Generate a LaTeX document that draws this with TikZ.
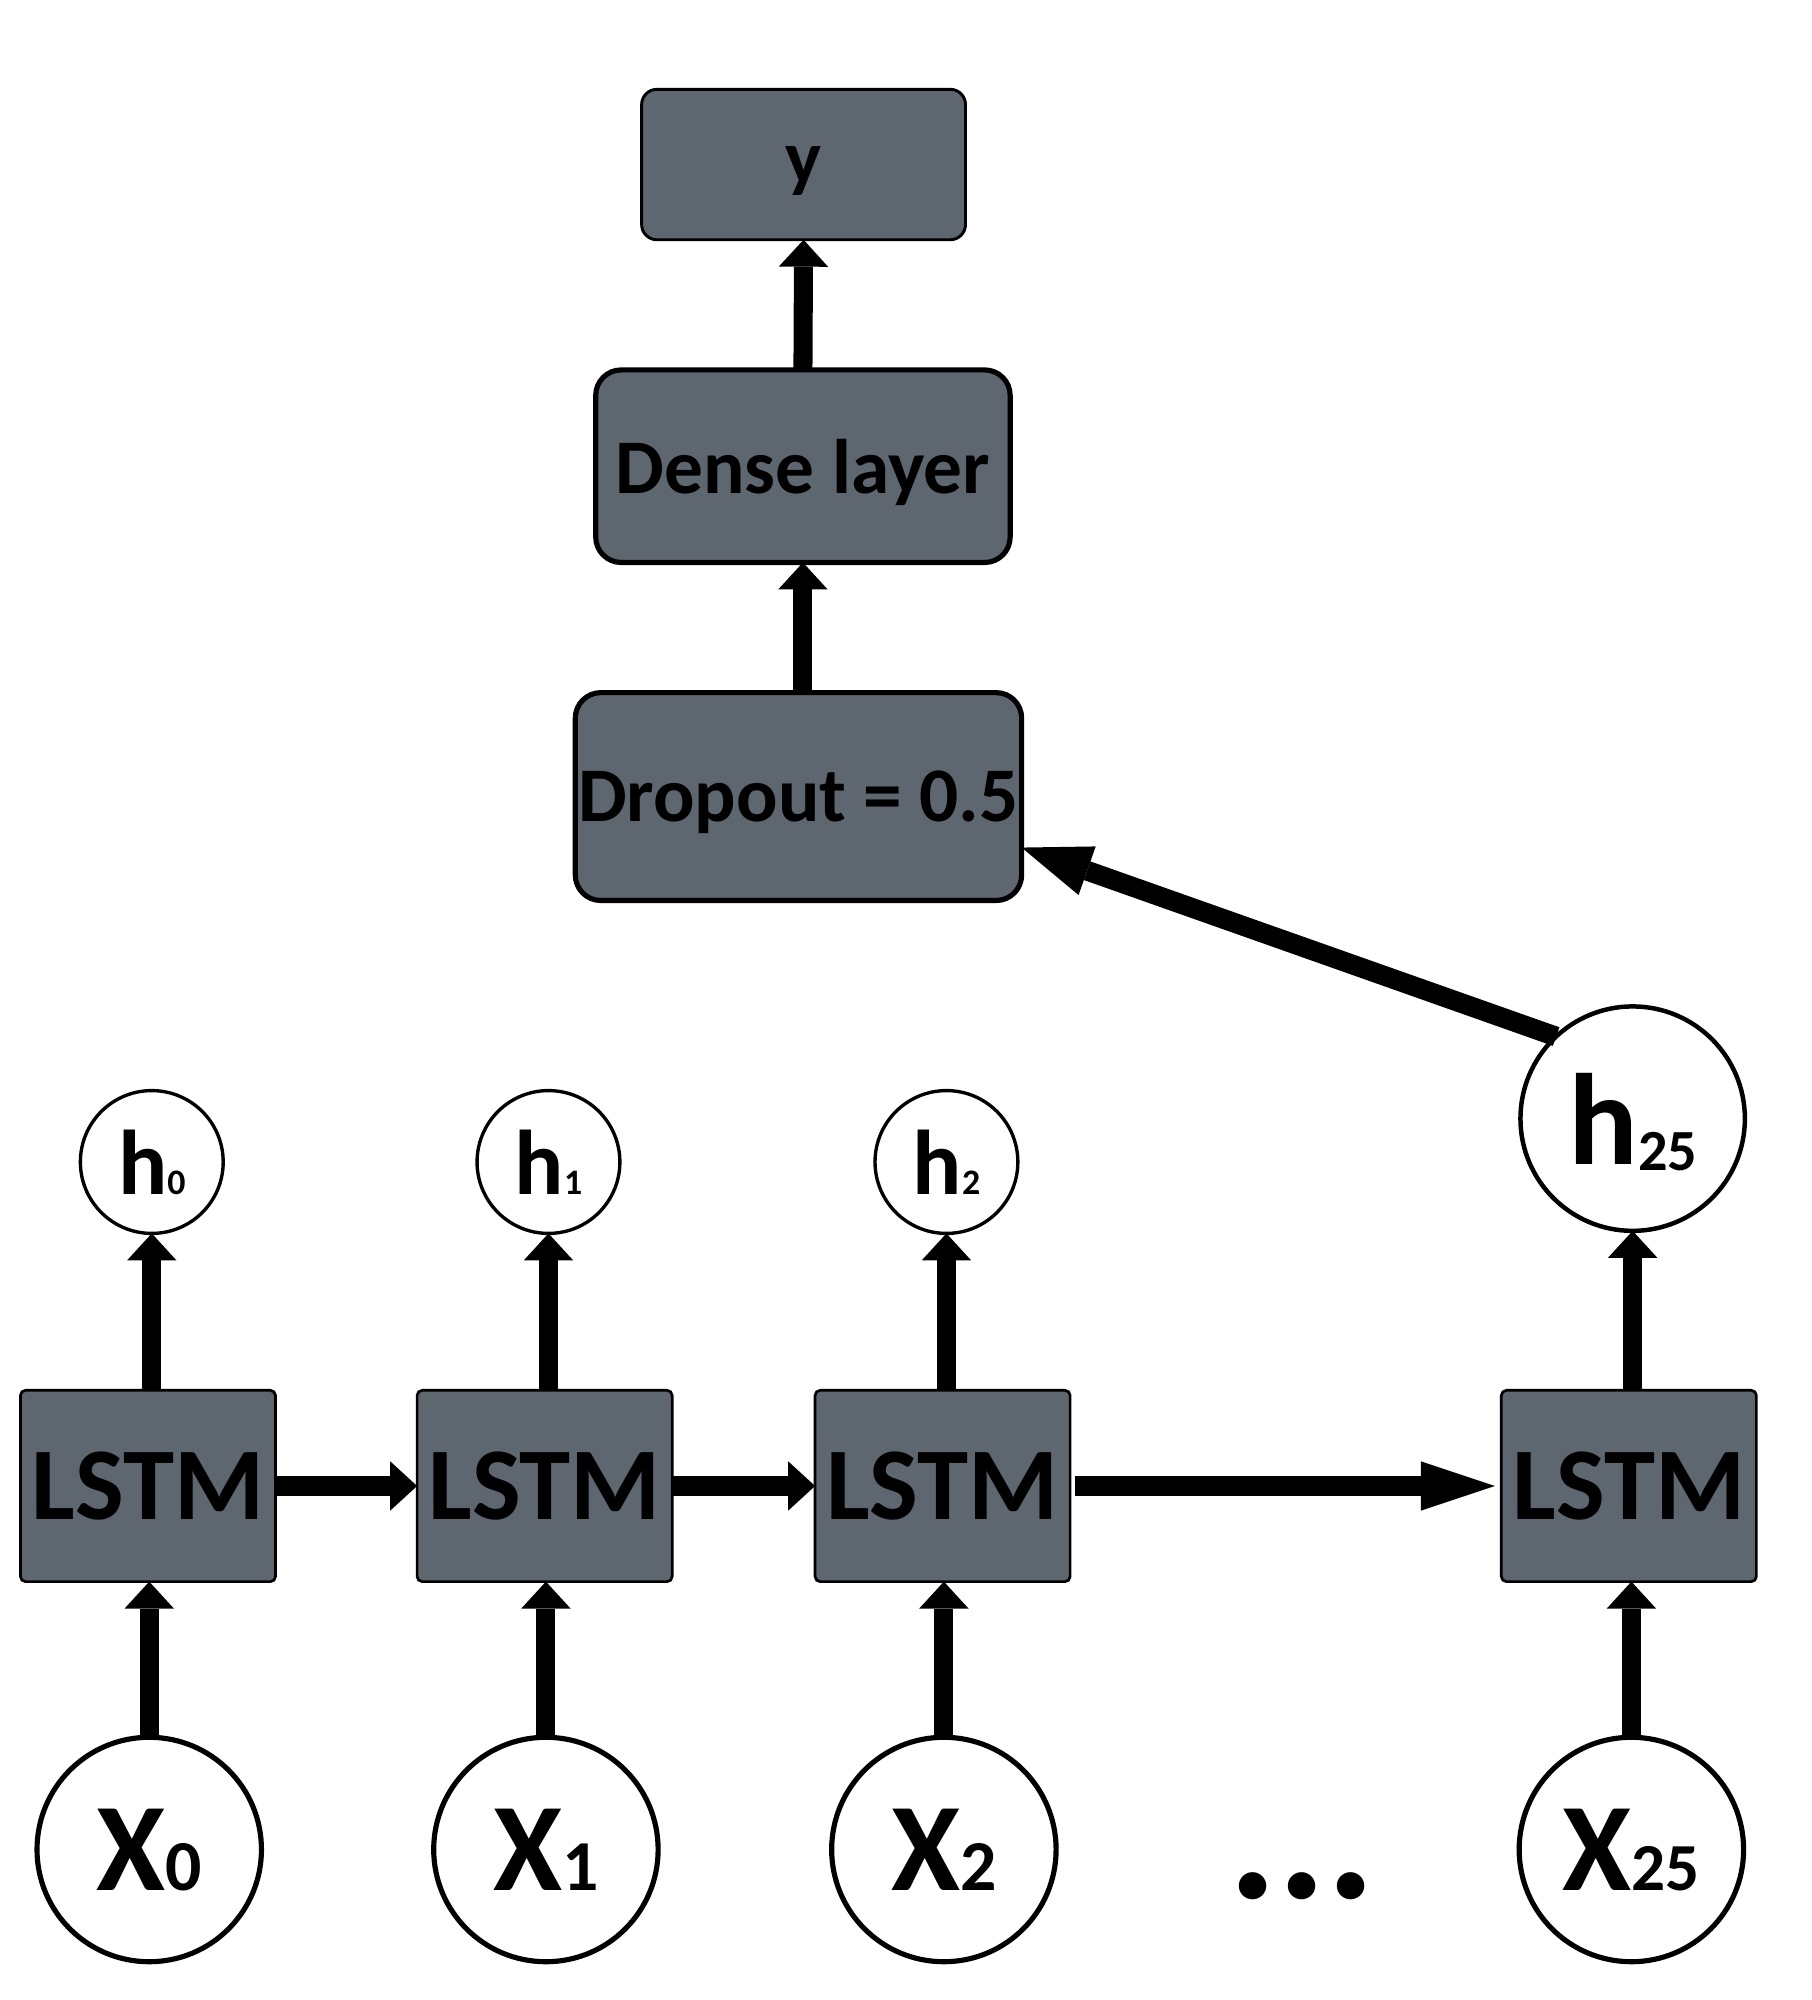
\documentclass[tikz,border=0pt]{standalone}
\usepackage{fontspec}
\setmainfont{Carlito}
\usetikzlibrary{arrows.meta}
\definecolor{boxgray}{RGB}{94,102,112}
\begin{document}
\begin{tikzpicture}[x=0.02cm,y=-0.02cm,
  every node/.style={inner sep=0pt,outer sep=0pt,font=\bfseries,text depth=0pt},
  topbox/.style={draw=black,fill=boxgray,line width=2.3pt,rounded corners=0.4cm},
  lstmbox/.style={draw=black,fill=boxgray,line width=1.2pt,rounded corners=0.08cm,minimum width=4cm,minimum height=3cm,font=\fontsize{46}{50}\selectfont\bfseries},
  hsmall/.style={circle,draw=black,fill=white,line width=1.5pt,minimum size=2.24cm,font=\fontsize{41}{44}\selectfont\bfseries},
  xnode/.style={circle,draw=black,fill=white,line width=2.3pt,minimum size=3.52cm,font=\fontsize{56}{58}\selectfont\bfseries},
  arr/.style={line width=8.5pt,-{Triangle[length=12pt,width=22pt,line width=0pt]}},
  arrlong/.style={line width=8.5pt,-{Triangle[length=33pt,width=22pt,line width=0pt]}},
  arrdiag/.style={line width=8.8pt,-{Triangle[length=31pt,width=23pt,line width=0pt]}}
]
\useasboundingbox (0,0) rectangle (1420,1568);

% top stack
\node[topbox,line width=1.3pt,rounded corners=0.24cm,minimum width=5.08cm,minimum height=2.36cm,font=\fontsize{34}{36}\selectfont\bfseries] (yb) at (630,129) {y};
\node[topbox,minimum width=6.5cm,minimum height=3.02cm,font=\fontsize{34.5}{37}\selectfont\bfseries] (dense) at (629.5,365.5) {Dense layer};
\node[topbox,minimum width=7.0cm,minimum height=3.26cm,font=\fontsize{34.5}{37}\selectfont\bfseries] (drop) at (626,624.5) {Dropout = 0.5};

% hidden states
\node[hsmall] (h0) at (119,911) {h{\fontsize{16}{17}\selectfont 0}};
\node[hsmall] (h1) at (430,911) {h{\fontsize{16}{17}\selectfont 1}};
\node[hsmall] (h2) at (742,911) {h{\fontsize{16}{17}\selectfont 2}};
\node[circle,draw=black,fill=white,line width=2pt,minimum size=3.52cm,font=\fontsize{58}{60}\selectfont\bfseries] (h25) at (1280,877) {h{\fontsize{26}{27}\selectfont\raisebox{-3pt}{25}}};

% LSTM cells
\node[lstmbox] (L0) at (116,1165) {LSTM};
\node[lstmbox] (L1) at (427,1165) {LSTM};
\node[lstmbox] (L2) at (739,1165) {LSTM};
\node[lstmbox] (L3) at (1277,1165) {LSTM};

% inputs
\node[xnode] (X0) at (117,1450) {X{\fontsize{32}{33}\selectfont 0}};
\node[xnode] (X1) at (428,1450) {X{\fontsize{32}{33}\selectfont 1}};
\node[xnode] (X2) at (740,1450) {X{\fontsize{32}{33}\selectfont 2}};
\node[xnode] (X25) at (1279,1450) {X{\fontsize{30}{31}\selectfont 25}};
\node[font=\fontsize{82}{82}\selectfont\bfseries] (dots) at (1021,1478) {...};

% connectors
\draw[arr] (dense.south |- drop.north) -- (dense.south);
\draw[arr] (dense.north) -- (yb.south);
\draw[arrdiag] (h25.133) -- ([yshift=-0.8cm]drop.east);

\foreach \i in {0,1,2}{
  \draw[arr] (h\i.south |- L\i.north) -- (h\i.south);
  \draw[arr] (X\i.north) -- (X\i.north |- L\i.south);
}
\draw[arr] (h25.south |- L3.north) -- (h25.south);
\draw[arr] (X25.north) -- (X25.north |- L3.south);

\draw[arr] (L0.east) -- (L1.west);
\draw[arr] (L1.east) -- (L2.west);
\draw[arrlong] ([xshift=0.08cm]L2.east) -- ([xshift=-0.1cm]L3.west);
\end{tikzpicture}
\end{document}
